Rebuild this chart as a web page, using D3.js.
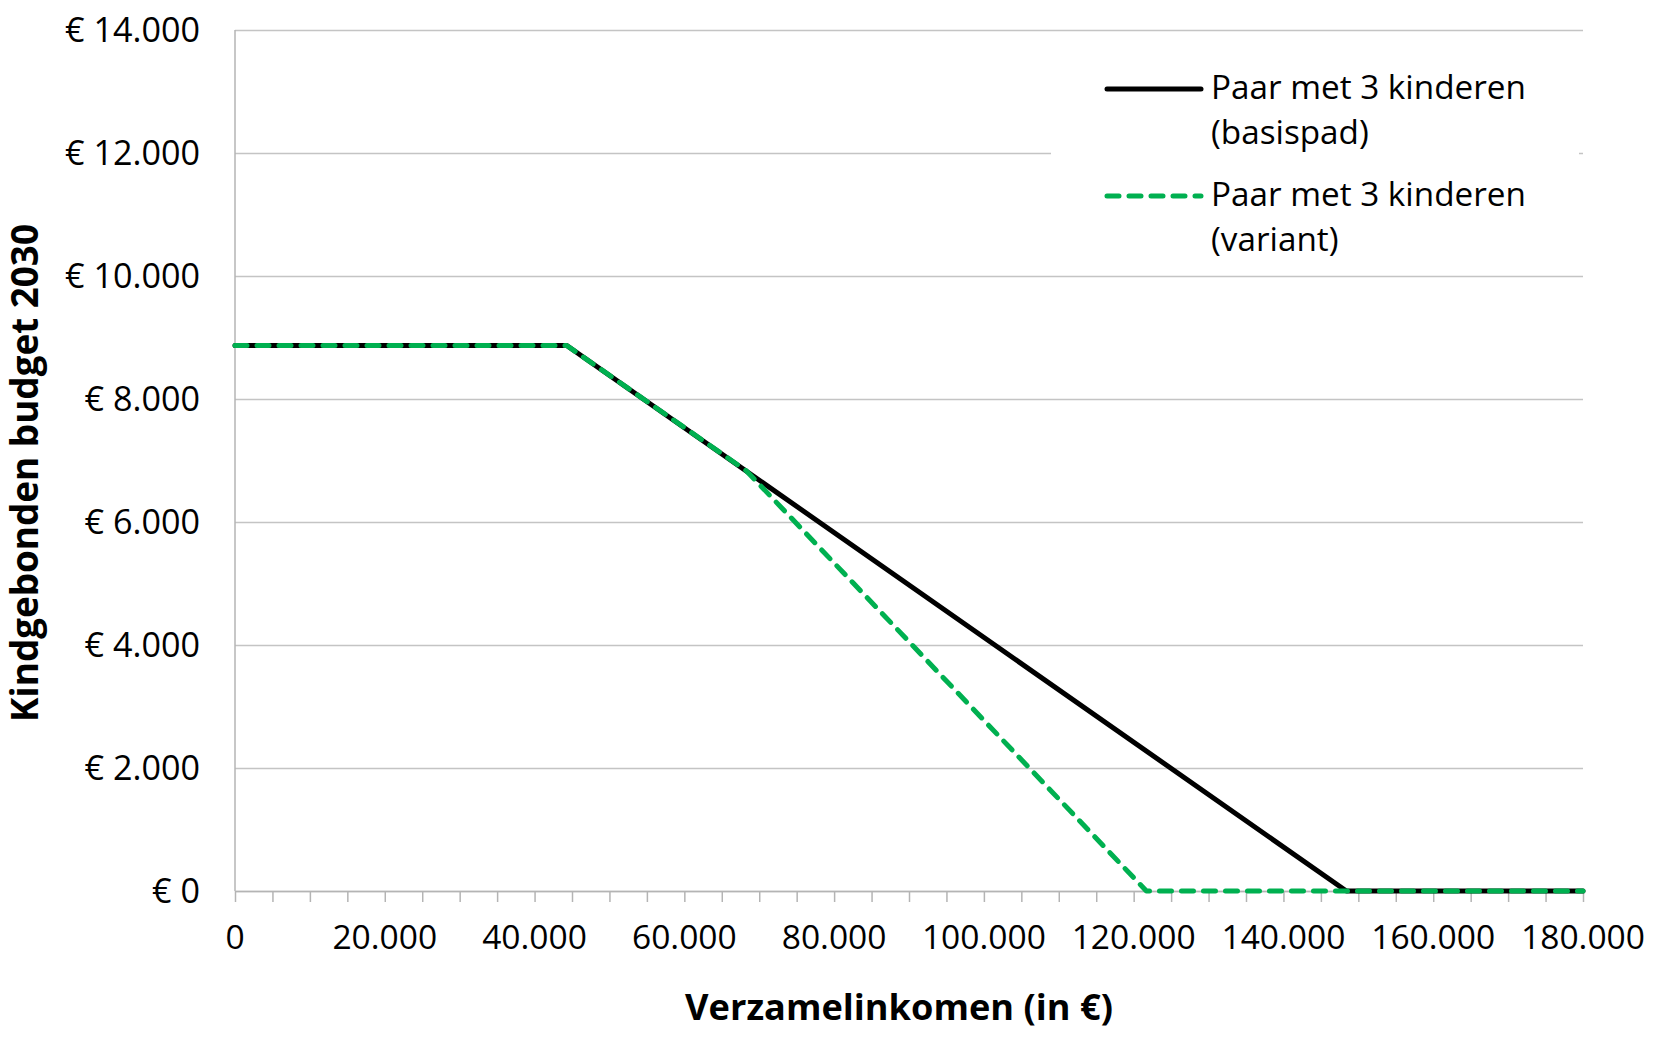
<!DOCTYPE html>
<html>
<head>
<meta charset="utf-8">
<script src="https://cdn.jsdelivr.net/npm/d3@7"></script>
<style>
  body { margin: 0; background: #fff; }
  svg { display: block; font-family: "Open Sans", Inter, sans-serif; }
</style>
</head>
<body>
<svg id="chart" width="1655" height="1044"></svg>
<script>
// income (x) and budget (y) at the break points of each line
const basisIncome = [0, 44300, 148400, 180000];
const basisBudget = [8870, 8870, 0, 0];
const variantIncome = [0, 44300, 68300, 121700, 180000];
const variantBudget = [8870, 8870, 6830, 0, 0];

const seriesLabels = [["Paar met 3 kinderen", "(basispad)"], ["Paar met 3 kinderen", "(variant)"]];
const yTickValues = [0, 2000, 4000, 6000, 8000, 10000, 12000, 14000];
const xLabelValues = [0, 20000, 40000, 60000, 80000, 100000, 120000, 140000, 160000, 180000];
const xMinorStep = 5000;

const svg = d3.select("#chart");
const margin = { left: 235, right: 72, top: 30, bottom: 153 };
const width = 1655, height = 1044;

const nl = d3.formatLocale({ decimal: ",", thousands: ".", grouping: [3], currency: ["€ ", ""] });
const fmtEuro = nl.format("$,.0f");
const fmtNum = nl.format(",.0f");

// pick a font size so that a sample string gets the wanted width
function fitSize(sample, target, weight) {
    const t = svg.append("text").attr("font-size", 100).attr("font-weight", weight || "normal").text(sample);
    const w = t.node().getComputedTextLength();
    t.remove();
    return 100 * target / w;
}
const yLabelSize = fitSize("€ 14.000", 135);
const xLabelSize = fitSize("180.000", 124);
const legendSize = fitSize("Paar met 3 kinderen", 315);
const xTitleSize = fitSize("Verzamelinkomen (in €)", 428, "bold");
const yTitleSize = fitSize("Kindgebonden budget 2030", 498, "bold");

const x = d3.scaleLinear().domain([0, 180000]).range([margin.left, width - margin.right]);
const y = d3.scaleLinear().domain([0, 14000]).range([height - margin.bottom, margin.top]);

// gridlines
svg.append("g")
    .attr("transform", `translate(${margin.left},0)`)
    .call(d3.axisLeft(y).tickValues(yTickValues).tickSize(-(x.range()[1] - x.range()[0])).tickFormat(""))
    .call(g => g.select(".domain").remove())
    .call(g => g.selectAll("line").attr("stroke", "#c4c4c4").attr("stroke-width", 1.5));

// y labels
svg.append("g")
    .selectAll("text")
    .data(yTickValues)
    .enter().append("text")
    .attr("x", 200)
    .attr("y", d => y(d))
    .attr("dy", "0.36em")
    .attr("text-anchor", "end")
    .attr("font-size", yLabelSize)
    .attr("fill", "#000")
    .text(d => fmtEuro(d));

// y axis line
svg.append("line")
    .attr("x1", margin.left).attr("x2", margin.left)
    .attr("y1", y(14000)).attr("y2", y(0))
    .attr("stroke", "#b4b4b4").attr("stroke-width", 1.5);

// x axis with minor ticks
svg.append("g")
    .attr("transform", `translate(0,${y(0)})`)
    .call(d3.axisBottom(x).tickValues(d3.range(0, 180001, xMinorStep)).tickSize(11).tickSizeOuter(0).tickFormat(""))
    .call(g => g.select(".domain").attr("stroke", "#b4b4b4").attr("stroke-width", 1.5))
    .call(g => g.selectAll(".tick line").attr("stroke", "#b4b4b4").attr("stroke-width", 1.5));

svg.append("g")
    .selectAll("text")
    .data(xLabelValues)
    .enter().append("text")
    .attr("x", d => x(d))
    .attr("y", 949)
    .attr("text-anchor", "middle")
    .attr("font-size", xLabelSize)
    .attr("fill", "#000")
    .text(d => fmtNum(d));

// axis titles
svg.append("text")
    .attr("x", 899)
    .attr("y", 1020)
    .attr("text-anchor", "middle")
    .attr("font-size", xTitleSize)
    .attr("font-weight", "bold")
    .text("Verzamelinkomen (in €)");

svg.append("text")
    .attr("transform", "translate(38,473) rotate(-90)")
    .attr("text-anchor", "middle")
    .attr("font-size", yTitleSize)
    .attr("font-weight", "bold")
    .text("Kindgebonden budget 2030");

// lines
const line = d3.line().x(d => x(d[0])).y(d => y(d[1]));
const basis = d3.zip(basisIncome, basisBudget);
const variant = d3.zip(variantIncome, variantBudget);

svg.append("path")
    .datum(basis)
    .attr("d", line)
    .attr("fill", "none")
    .attr("stroke", "#000")
    .attr("stroke-width", 5)
    .attr("stroke-linejoin", "round")
    .attr("stroke-linecap", "round");

svg.append("path")
    .datum(variant)
    .attr("d", line)
    .attr("fill", "none")
    .attr("stroke", "#00b050")
    .attr("stroke-width", 5)
    .attr("stroke-dasharray", "12,10")
    .attr("stroke-linejoin", "round")
    .attr("stroke-linecap", "round");

// legend (white box over the gridlines)
const legend = svg.append("g");
legend.append("rect")
    .attr("x", 1051).attr("y", 52)
    .attr("width", 528).attr("height", 215)
    .attr("fill", "#fff");

const legendRows = [
    { y: 89, color: "#000", dash: null, lines: seriesLabels[0] },
    { y: 196, color: "#00b050", dash: "12,10", lines: seriesLabels[1] }
];

const row = legend.selectAll(".row")
    .data(legendRows)
    .enter().append("g")
    .attr("class", "row");

row.append("line")
    .attr("x1", 1107).attr("x2", 1201)
    .attr("y1", d => d.y).attr("y2", d => d.y)
    .attr("stroke", d => d.color)
    .attr("stroke-width", 5)
    .attr("stroke-linecap", "round")
    .attr("stroke-dasharray", d => d.dash);

row.append("text")
    .attr("x", 1211)
    .attr("y", d => d.y + 10)
    .attr("font-size", legendSize)
    .attr("fill", "#000")
    .selectAll("tspan")
    .data(d => d.lines)
    .enter().append("tspan")
    .attr("x", 1211)
    .attr("dy", (d, i) => i === 0 ? 0 : 45)
    .text(d => d);
</script>
</body>
</html>
